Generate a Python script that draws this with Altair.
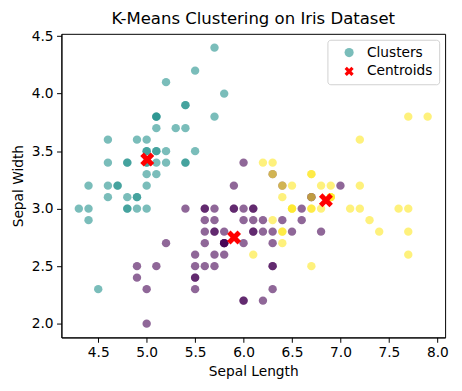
import altair as alt
import pandas as pd

sepal_length = [5.1,4.9,4.7,4.6,5.0,5.4,4.6,5.0,4.4,4.9,5.4,4.8,4.8,4.3,5.8,5.7,5.4,5.1,5.7,5.1,5.4,5.1,4.6,5.1,4.8,5.0,5.0,5.2,5.2,4.7,4.8,5.4,5.2,5.5,4.9,5.0,5.5,4.9,4.4,5.1,5.0,4.5,4.4,5.0,5.1,4.8,5.1,4.6,5.3,5.0,
                7.0,6.4,6.9,5.5,6.5,5.7,6.3,4.9,6.6,5.2,5.0,5.9,6.0,6.1,5.6,6.7,5.6,5.8,6.2,5.6,5.9,6.1,6.3,6.1,6.4,6.6,6.8,6.7,6.0,5.7,5.5,5.5,5.8,6.0,5.4,6.0,6.7,6.3,5.6,5.5,5.5,6.1,5.8,5.0,5.6,5.7,5.7,6.2,5.1,5.7,
                6.3,5.8,7.1,6.3,6.5,7.6,4.9,7.3,6.7,7.2,6.5,6.4,6.8,5.7,5.8,6.4,6.5,7.7,7.7,6.0,6.9,5.6,7.7,6.3,6.7,7.2,6.2,6.1,6.4,7.2,7.4,7.9,6.4,6.3,6.1,7.7,6.3,6.4,6.0,6.9,6.7,6.9,5.8,6.8,6.7,6.7,6.3,6.5,6.2,5.9]
sepal_width = [3.5,3.0,3.2,3.1,3.6,3.9,3.4,3.4,2.9,3.1,3.7,3.4,3.0,3.0,4.0,4.4,3.9,3.5,3.8,3.8,3.4,3.7,3.6,3.3,3.4,3.0,3.4,3.5,3.4,3.2,3.1,3.4,4.1,4.2,3.1,3.2,3.5,3.6,3.0,3.4,3.5,2.3,3.2,3.5,3.8,3.0,3.8,3.2,3.7,3.3,
               3.2,3.2,3.1,2.3,2.8,2.8,3.3,2.4,2.9,2.7,2.0,3.0,2.2,2.9,2.9,3.1,3.0,2.7,2.2,2.5,3.2,2.8,2.5,2.8,2.9,3.0,2.8,3.0,2.9,2.6,2.4,2.4,2.7,2.7,3.0,3.4,3.1,2.3,3.0,2.5,2.6,3.0,2.6,2.3,2.7,3.0,2.9,2.9,2.5,2.8,
               3.3,2.7,3.0,2.9,3.0,3.0,2.5,2.9,2.5,3.6,3.2,2.7,3.0,2.5,2.8,3.2,3.0,3.8,2.6,2.2,3.2,2.8,2.8,2.7,3.3,3.2,2.8,3.0,2.8,3.0,2.8,3.8,2.8,2.8,2.6,3.0,3.4,3.1,3.0,3.1,3.1,3.1,2.7,3.2,3.3,3.0,2.5,3.0,3.4,3.0]
cluster_labels = [1]*50 + [
    0,0,2,0,0,0,0,0,0,0,0,0,0,0,0,0,0,0,0,0,0,0,0,0,0,0,0,2,0,0,0,0,0,0,0,0,0,0,0,0,0,0,0,0,0,0,0,0,0,0,
    2,0,2,2,2,2,0,2,2,2,2,2,2,0,0,2,2,2,2,0,2,0,2,0,2,2,0,0,2,2,2,2,2,0,2,2,2,2,0,2,2,2,0,2,2,2,0,2,2,0]

centroid_x = [5.006, 5.9016, 6.85]
centroid_y = [3.428, 2.7484, 3.0737]

x_ticks = [4.5, 5.0, 5.5, 6.0, 6.5, 7.0, 7.5, 8.0]
y_ticks = [2.0, 2.5, 3.0, 3.5, 4.0, 4.5]
viridis3 = ["#440154", "#21918c", "#fde725"]
legend_names = ["Clusters", "Centroids"]
legend_colors = ["#7abdba", "#ff0000"]

X_PATH = "M-0.5,-1L0,-0.5L0.5,-1L1,-0.5L0.5,0L1,0.5L0.5,1L0,0.5L-0.5,1L-1,0.5L-0.5,0L-1,-0.5Z"

pts = pd.DataFrame({"x": sepal_length, "y": sepal_width, "cluster": cluster_labels,
                    "series": ["Clusters"] * len(sepal_length), "order": list(range(len(sepal_length)))})
cen = pd.DataFrame({"x": centroid_x, "y": centroid_y, "series": ["Centroids"] * 3})

FONT = "DejaVu Sans"
FS = 13.9
xscale = alt.Scale(domain=[4.12, 8.08], nice=False, zero=False)
yscale = alt.Scale(domain=[1.88, 4.52], nice=False, zero=False)
xaxis = alt.Axis(values=x_ticks, format=".1f", title="Sepal Length", grid=False, titlePadding=5)
yaxis = alt.Axis(values=y_ticks, format=".1f", title="Sepal Width", grid=False, titlePadding=6)
shape_scale = alt.Scale(domain=legend_names, range=["circle", X_PATH])
color_scale = alt.Scale(domain=legend_names, range=legend_colors)

legend = alt.Legend(
    title=None, orient="top-right", offset=6, padding=6,
    fillColor="white", strokeColor="#d0d0d0", cornerRadius=3,
    labelFontSize=FS, labelFont=FONT, labelColor="black",
    rowPadding=4, labelOffset=11, symbolOffset=9, symbolSize=85,
    symbolStrokeWidth=0, symbolOpacity=1,
)

points = alt.Chart(pts).mark_point(filled=True, opacity=0.6, strokeWidth=0).encode(
    x=alt.X("x:Q", scale=xscale, axis=xaxis),
    y=alt.Y("y:Q", scale=yscale, axis=yaxis),
    fill=alt.Fill("cluster:O", scale=alt.Scale(domain=[0, 1, 2], range=viridis3), legend=None),
    shape=alt.Shape("series:N", scale=shape_scale, legend=legend),
    size=alt.value(72),
    order="order:Q",
)

cents = alt.Chart(cen).mark_point(filled=True, opacity=1, strokeWidth=0).encode(
    x=alt.X("x:Q", scale=xscale),
    y=alt.Y("y:Q", scale=yscale),
    color=alt.Color("series:N", scale=color_scale, legend=legend),
    shape=alt.Shape("series:N", scale=shape_scale, legend=legend),
    size=alt.value(200),
)

chart = alt.layer(points, cents).properties(
    width=388, height=307,
    padding={"left": 3, "top": 0, "right": 5, "bottom": 5},
    background="white",
    title=alt.Title("K-Means Clustering on Iris Dataset", fontSize=16.7, fontWeight="normal",
                    font=FONT, color="black", offset=2),
).configure_view(stroke="black", strokeWidth=1).configure_axis(
    labelFont=FONT, titleFont=FONT, labelFontSize=FS, titleFontSize=FS,
    labelColor="black", titleColor="black", titleFontWeight="normal",
    domainColor="black", tickColor="black", tickSize=4.9, labelPadding=3.5,
)

chart.save("out.html", embed_options={"renderer": "svg", "actions": False})
